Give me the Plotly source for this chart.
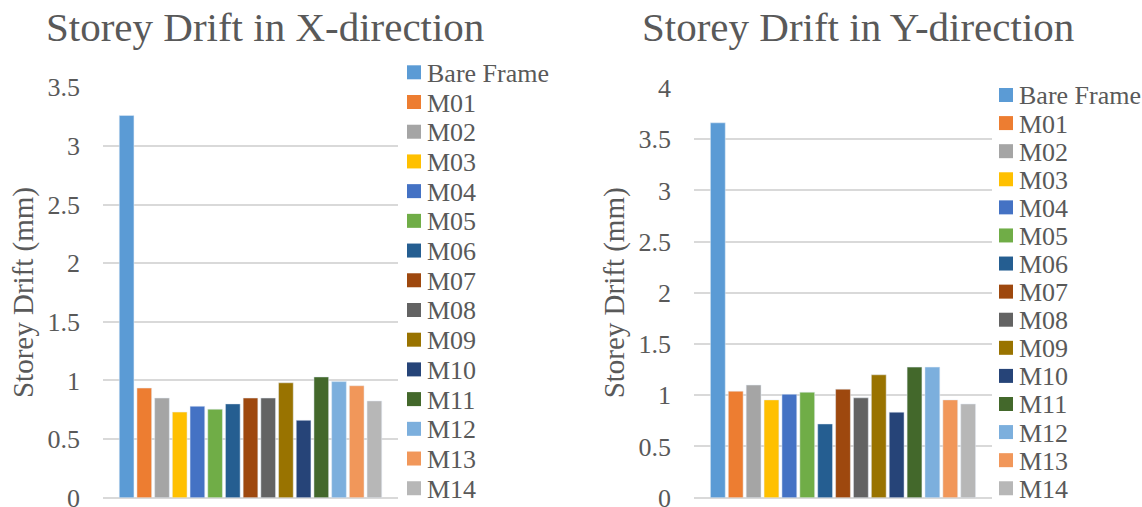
import plotly.graph_objects as go

# Series names and colours
series = ["Bare Frame", "M01", "M02", "M03", "M04", "M05", "M06", "M07",
          "M08", "M09", "M10", "M11", "M12", "M13", "M14"]
colors = ["#5B9BD5", "#ED7D31", "#A5A5A5", "#FFC000", "#4472C4", "#70AD47",
          "#255E91", "#9E480E", "#636363", "#997300", "#264478", "#43682B",
          "#7CAFDD", "#F1975A", "#B7B7B7"]

# Storey drift (mm)
drift_x = [3.26, 0.935, 0.85, 0.73, 0.78, 0.755, 0.80, 0.85, 0.85, 0.98,
           0.66, 1.03, 0.99, 0.955, 0.825]
drift_y = [3.66, 1.04, 1.10, 0.955, 1.01, 1.03, 0.72, 1.06, 0.975, 1.20,
           0.835, 1.275, 1.275, 0.955, 0.915]

yticks_x = [0, 0.5, 1, 1.5, 2, 2.5, 3, 3.5]
yticks_y = [0, 0.5, 1, 1.5, 2, 2.5, 3, 3.5, 4]

W, H = 1142, 507
FONT = "Liberation Serif, Times New Roman, serif"
TXT = "#595959"
GRID = "#D9D9D9"


def px_x(v):
    return v / W


def px_y(v):
    return (H - v) / H


fig = go.Figure()
for name, col, vx, vy in zip(series, colors, drift_x, drift_y):
    fig.add_trace(go.Bar(x=[""], y=[vx], name=name, marker_color=col,
                         xaxis="x", yaxis="y", showlegend=False))
    fig.add_trace(go.Bar(x=[""], y=[vy], name=name, marker_color=col,
                         xaxis="x2", yaxis="y2", showlegend=False))

yaxis_common = dict(
    automargin=False,
    showgrid=True, gridcolor=GRID, gridwidth=2,
    zeroline=True, zerolinecolor=GRID, zerolinewidth=2,
    showline=False, ticks="", ticklabelstandoff=22,
    ticklabeloverflow="allow",
    tickfont=dict(family=FONT, size=26, color=TXT),
    title=dict(text="Storey Drift (mm)", standoff=5,
               font=dict(family=FONT, size=29, color=TXT)),
)
xaxis_common = dict(automargin=False, showticklabels=False, showgrid=False,
                    zeroline=False, showline=False, ticks="")

# Legend blocks: colour key squares + series labels, one block per chart
shapes, annotations = [], []
legend_blocks = [
    dict(x0=407, top=72.3, step=29.71),   # X-direction chart
    dict(x0=999, top=95.0, step=28.09),   # Y-direction chart
]
SQ = 14
for blk in legend_blocks:
    for i, (name, col) in enumerate(zip(series, colors)):
        cy = blk["top"] + i * blk["step"]
        shapes.append(dict(type="rect", xref="paper", yref="paper",
                           x0=px_x(blk["x0"]), x1=px_x(blk["x0"] + SQ),
                           y0=px_y(cy + SQ / 2), y1=px_y(cy - SQ / 2),
                           fillcolor=col, line=dict(width=0)))
        annotations.append(dict(text=name, xref="paper", yref="paper",
                                x=px_x(blk["x0"] + SQ + 4), y=px_y(cy + 1),
                                xanchor="left", yanchor="middle",
                                showarrow=False,
                                font=dict(family=FONT, size=26, color=TXT)))

for text, cx in [("Storey Drift in X-direction", 265),
                 ("Storey Drift in Y-direction", 858)]:
    annotations.append(dict(text=text, x=px_x(cx), y=px_y(27),
                            xref="paper", yref="paper", showarrow=False,
                            xanchor="center", yanchor="middle",
                            font=dict(family=FONT, size=41, color=TXT)))

fig.update_layout(
    width=W, height=H, autosize=False,
    margin=dict(l=0, r=0, t=0, b=0, pad=0, autoexpand=False),
    paper_bgcolor="white", plot_bgcolor="white",
    barmode="group", bargap=0.1, bargroupgap=0.17,
    showlegend=False,
    xaxis=dict(domain=[px_x(103), px_x(398)], anchor="y", **xaxis_common),
    yaxis=dict(domain=[px_y(497.7), px_y(87.3)], anchor="x", range=[0, 3.5],
               tickvals=yticks_x, ticktext=[f"{t:g}" for t in yticks_x],
               **yaxis_common),
    xaxis2=dict(domain=[px_x(694), px_x(992)], anchor="y2", **xaxis_common),
    yaxis2=dict(domain=[px_y(497.7), px_y(88)], anchor="x2", range=[0, 4],
                tickvals=yticks_y, ticktext=[f"{t:g}" for t in yticks_y],
                **yaxis_common),
    shapes=shapes,
    annotations=annotations,
)

fig.write_html("out.html")
